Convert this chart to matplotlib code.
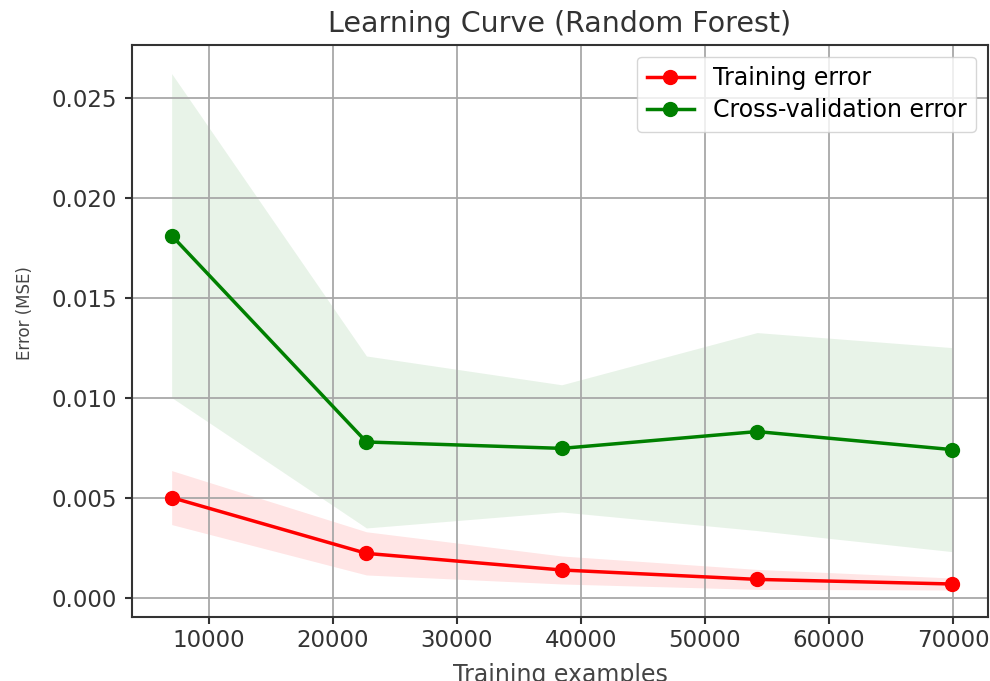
import numpy as np
import matplotlib
matplotlib.use("Agg")
import matplotlib.pyplot as plt

# training set sizes used for the learning curve
train_sizes = [6990, 22700, 38450, 54200, 69900]

# mean / std of the MSE over the CV folds
train_err_mean = [0.00502, 0.00223, 0.00140, 0.00093, 0.00070]
train_err_std = [0.00135, 0.00108, 0.00070, 0.00050, 0.00030]
cv_err_mean = [0.01812, 0.00780, 0.00748, 0.00832, 0.00742]
cv_err_std = [0.00810, 0.00430, 0.00318, 0.00495, 0.00510]

train_err_mean = np.array(train_err_mean)
train_err_std = np.array(train_err_std)
cv_err_mean = np.array(cv_err_mean)
cv_err_std = np.array(cv_err_std)

fig = plt.figure(figsize=(9.9, 6.81), dpi=100)
ax = fig.add_axes([0.1333, 0.094, 0.8646, 0.84])

ax.fill_between(train_sizes, train_err_mean - train_err_std,
                train_err_mean + train_err_std, alpha=0.1, color="r", lw=0)
ax.fill_between(train_sizes, cv_err_mean - cv_err_std,
                cv_err_mean + cv_err_std, alpha=0.09, color="g", lw=0)
ax.plot(train_sizes, train_err_mean, 'o-', color="r", lw=2.5, ms=10,
        label="Training error")
ax.plot(train_sizes, cv_err_mean, 'o-', color="g", lw=2.5, ms=10,
        label="Cross-validation error")

ax.set_xlim(3790, 72820)
ax.set_ylim(-0.00095, 0.02765)
ax.set_xticks([10000, 20000, 30000, 40000, 50000, 60000, 70000])
ax.set_yticks([0.0, 0.005, 0.010, 0.015, 0.020, 0.025])
ax.yaxis.set_major_formatter(matplotlib.ticker.FormatStrFormatter('%.3f'))
ax.tick_params(labelsize=16.5, width=1.5, length=5, colors='#333333')
ax.tick_params(axis='y', pad=6)
for s in ax.spines.values():
    s.set_linewidth(1.5)
    s.set_color('#333333')

ax.grid(True, color='#a8a8a8', lw=1.3)
ax.set_title("Learning Curve (Random Forest)", fontsize=20.5, color='#333333', pad=9.5)
ax.set_xlabel("Training examples", fontsize=17, color='#444444', labelpad=8)
ax.set_ylabel("Error (MSE)", fontsize=12, color='#444444')
ax.yaxis.set_label_coords(-0.115, 0.531)
ax.legend(loc="upper right", fontsize=17, handlelength=2.0, borderaxespad=0.5,
          labelspacing=0.35)

fig.savefig("out.png", dpi=100)
